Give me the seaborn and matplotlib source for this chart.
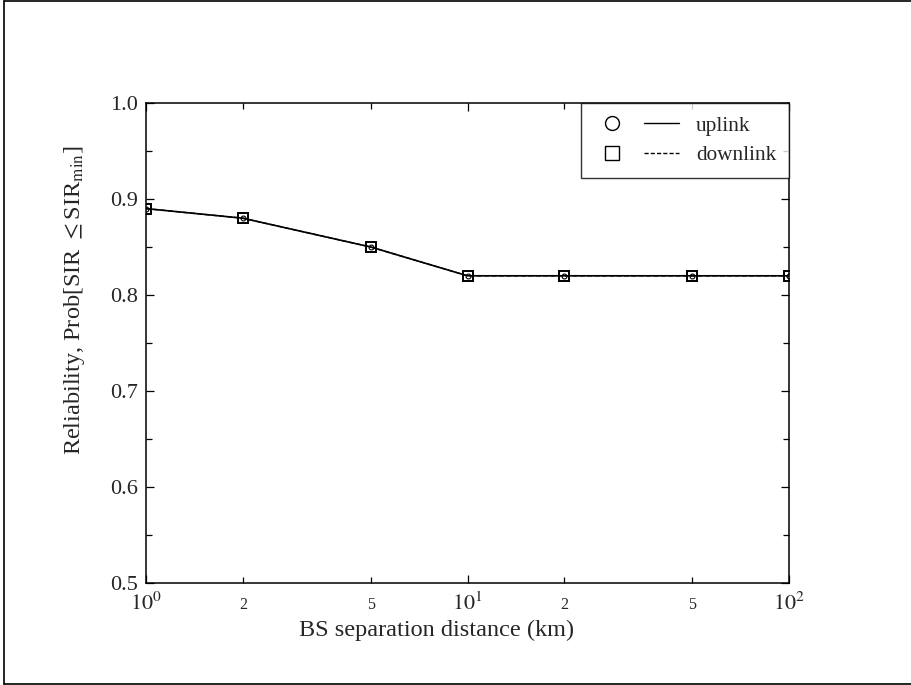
import matplotlib
matplotlib.use("Agg")
import matplotlib.pyplot as plt
from matplotlib.lines import Line2D
from matplotlib.legend_handler import HandlerTuple
from matplotlib.ticker import FixedLocator, FixedFormatter
import numpy as np
import pandas as pd
import seaborn as sns

# BS separation distance (km) and reliability values
distance_km = [1, 2, 5, 10, 20, 50, 100]
uplink = [0.89, 0.88, 0.85, 0.82, 0.82, 0.82, 0.82]
downlink = [0.89, 0.88, 0.85, 0.82, 0.82, 0.82, 0.82]

y_ticks = [0.5, 0.6, 0.7, 0.8, 0.9, 1.0]
y_tick_labels = ["0.5", "0.6", "0.7", "0.8", "0.9", "1.0"]
x_major = [1, 10, 100]
x_major_labels = [r"$10^{0}$", r"$10^{1}$", r"$10^{2}$"]
x_minor = [2, 5, 20, 50]
x_minor_labels = ["2", "5", "2", "5"]

sns.set_theme(style="ticks")
plt.rcParams["font.family"] = ["Liberation Serif", "DejaVu Serif"]
plt.rcParams["mathtext.fontset"] = "stix"

df = pd.DataFrame({
    "distance": distance_km * 2,
    "reliability": uplink + downlink,
    "link": ["uplink"] * len(uplink) + ["downlink"] * len(downlink),
})

fig = plt.figure(figsize=(9.12, 6.85), dpi=100)
ax = fig.add_axes([146 / 912, 1 - 583 / 685, (789 - 146) / 912, (583 - 103) / 685])

sns.lineplot(data=df[df.link == "uplink"], x="distance", y="reliability",
             color="black", lw=1.2, linestyle="-", marker="o", markersize=3.5,
             markerfacecolor="none", markeredgecolor="black", markeredgewidth=0.8,
             ax=ax, legend=False)
sns.lineplot(data=df[df.link == "downlink"], x="distance", y="reliability",
             color="black", lw=1.0, linestyle="--", marker="s", markersize=6.5,
             markerfacecolor="none", markeredgecolor="black", markeredgewidth=1.4,
             ax=ax, legend=False)

ax.set_xscale("log")
ax.set_xlim(1, 100)
ax.set_ylim(0.5, 1.0)

ax.xaxis.set_major_locator(FixedLocator(x_major))
ax.xaxis.set_major_formatter(FixedFormatter(x_major_labels))
ax.xaxis.set_minor_locator(FixedLocator(x_minor))
ax.xaxis.set_minor_formatter(FixedFormatter(x_minor_labels))
ax.set_yticks(y_ticks)
ax.set_yticklabels(y_tick_labels)
ax.set_yticks(np.arange(0.55, 1.0, 0.1), minor=True)

ax.tick_params(axis="both", which="both", direction="in", top=True, right=True,
               color="black", width=0.9)
ax.tick_params(axis="both", which="major", length=6, labelsize=16)
ax.tick_params(axis="y", which="major", pad=6)
ax.tick_params(axis="x", which="major", pad=7)
ax.tick_params(axis="x", which="minor", length=4, labelsize=11.5, pad=10)
ax.tick_params(axis="y", which="minor", length=4)

for s in ax.spines.values():
    s.set_color("black")
    s.set_linewidth(1.1)

ax.set_xlabel("BS separation distance (km)", fontsize=17.5)
ax.set_ylabel(r"Reliability, Prob[SIR $\leq$SIR$_{\mathrm{min}}$]", fontsize=17.5)
ax.xaxis.set_label_coords((437 - 146) / 643, -(630 - 583) / 480)
ax.yaxis.set_label_coords(-(146 - 75) / 643, (583 - 300) / 480)
ax.xaxis.label.set_va("center")
ax.yaxis.label.set_va("center")

h_up = (Line2D([], [], marker="o", ls="none", markersize=10, markerfacecolor="none",
               markeredgecolor="black"),
        Line2D([], [], color="black", lw=1.0, ls="-"))
h_dn = (Line2D([], [], marker="s", ls="none", markersize=10, markerfacecolor="none",
               markeredgecolor="black"),
        Line2D([], [], color="black", lw=1.0, ls=(0, (3, 1.5))))
leg = ax.legend([h_up, h_dn], ["uplink", "downlink"],
                handler_map={tuple: HandlerTuple(ndivide=None, pad=0.7)},
                loc="upper right", borderaxespad=0, fontsize=15.3, handlelength=4.0,
                frameon=True, fancybox=False, borderpad=0.6, labelspacing=0.45,
                handletextpad=0.8)
leg.get_frame().set_edgecolor("black")
leg.get_frame().set_linewidth(1.0)

# page border around the figure
for xs, ys in [([4, 4], [1, 684]), ([4, 911], [1, 1]), ([4, 911], [684, 684])]:
    fig.add_artist(Line2D([x / 912 for x in xs], [1 - y / 685 for y in ys],
                          color="black", lw=1.2, transform=fig.transFigure))

fig.savefig("out.png", dpi=100)
